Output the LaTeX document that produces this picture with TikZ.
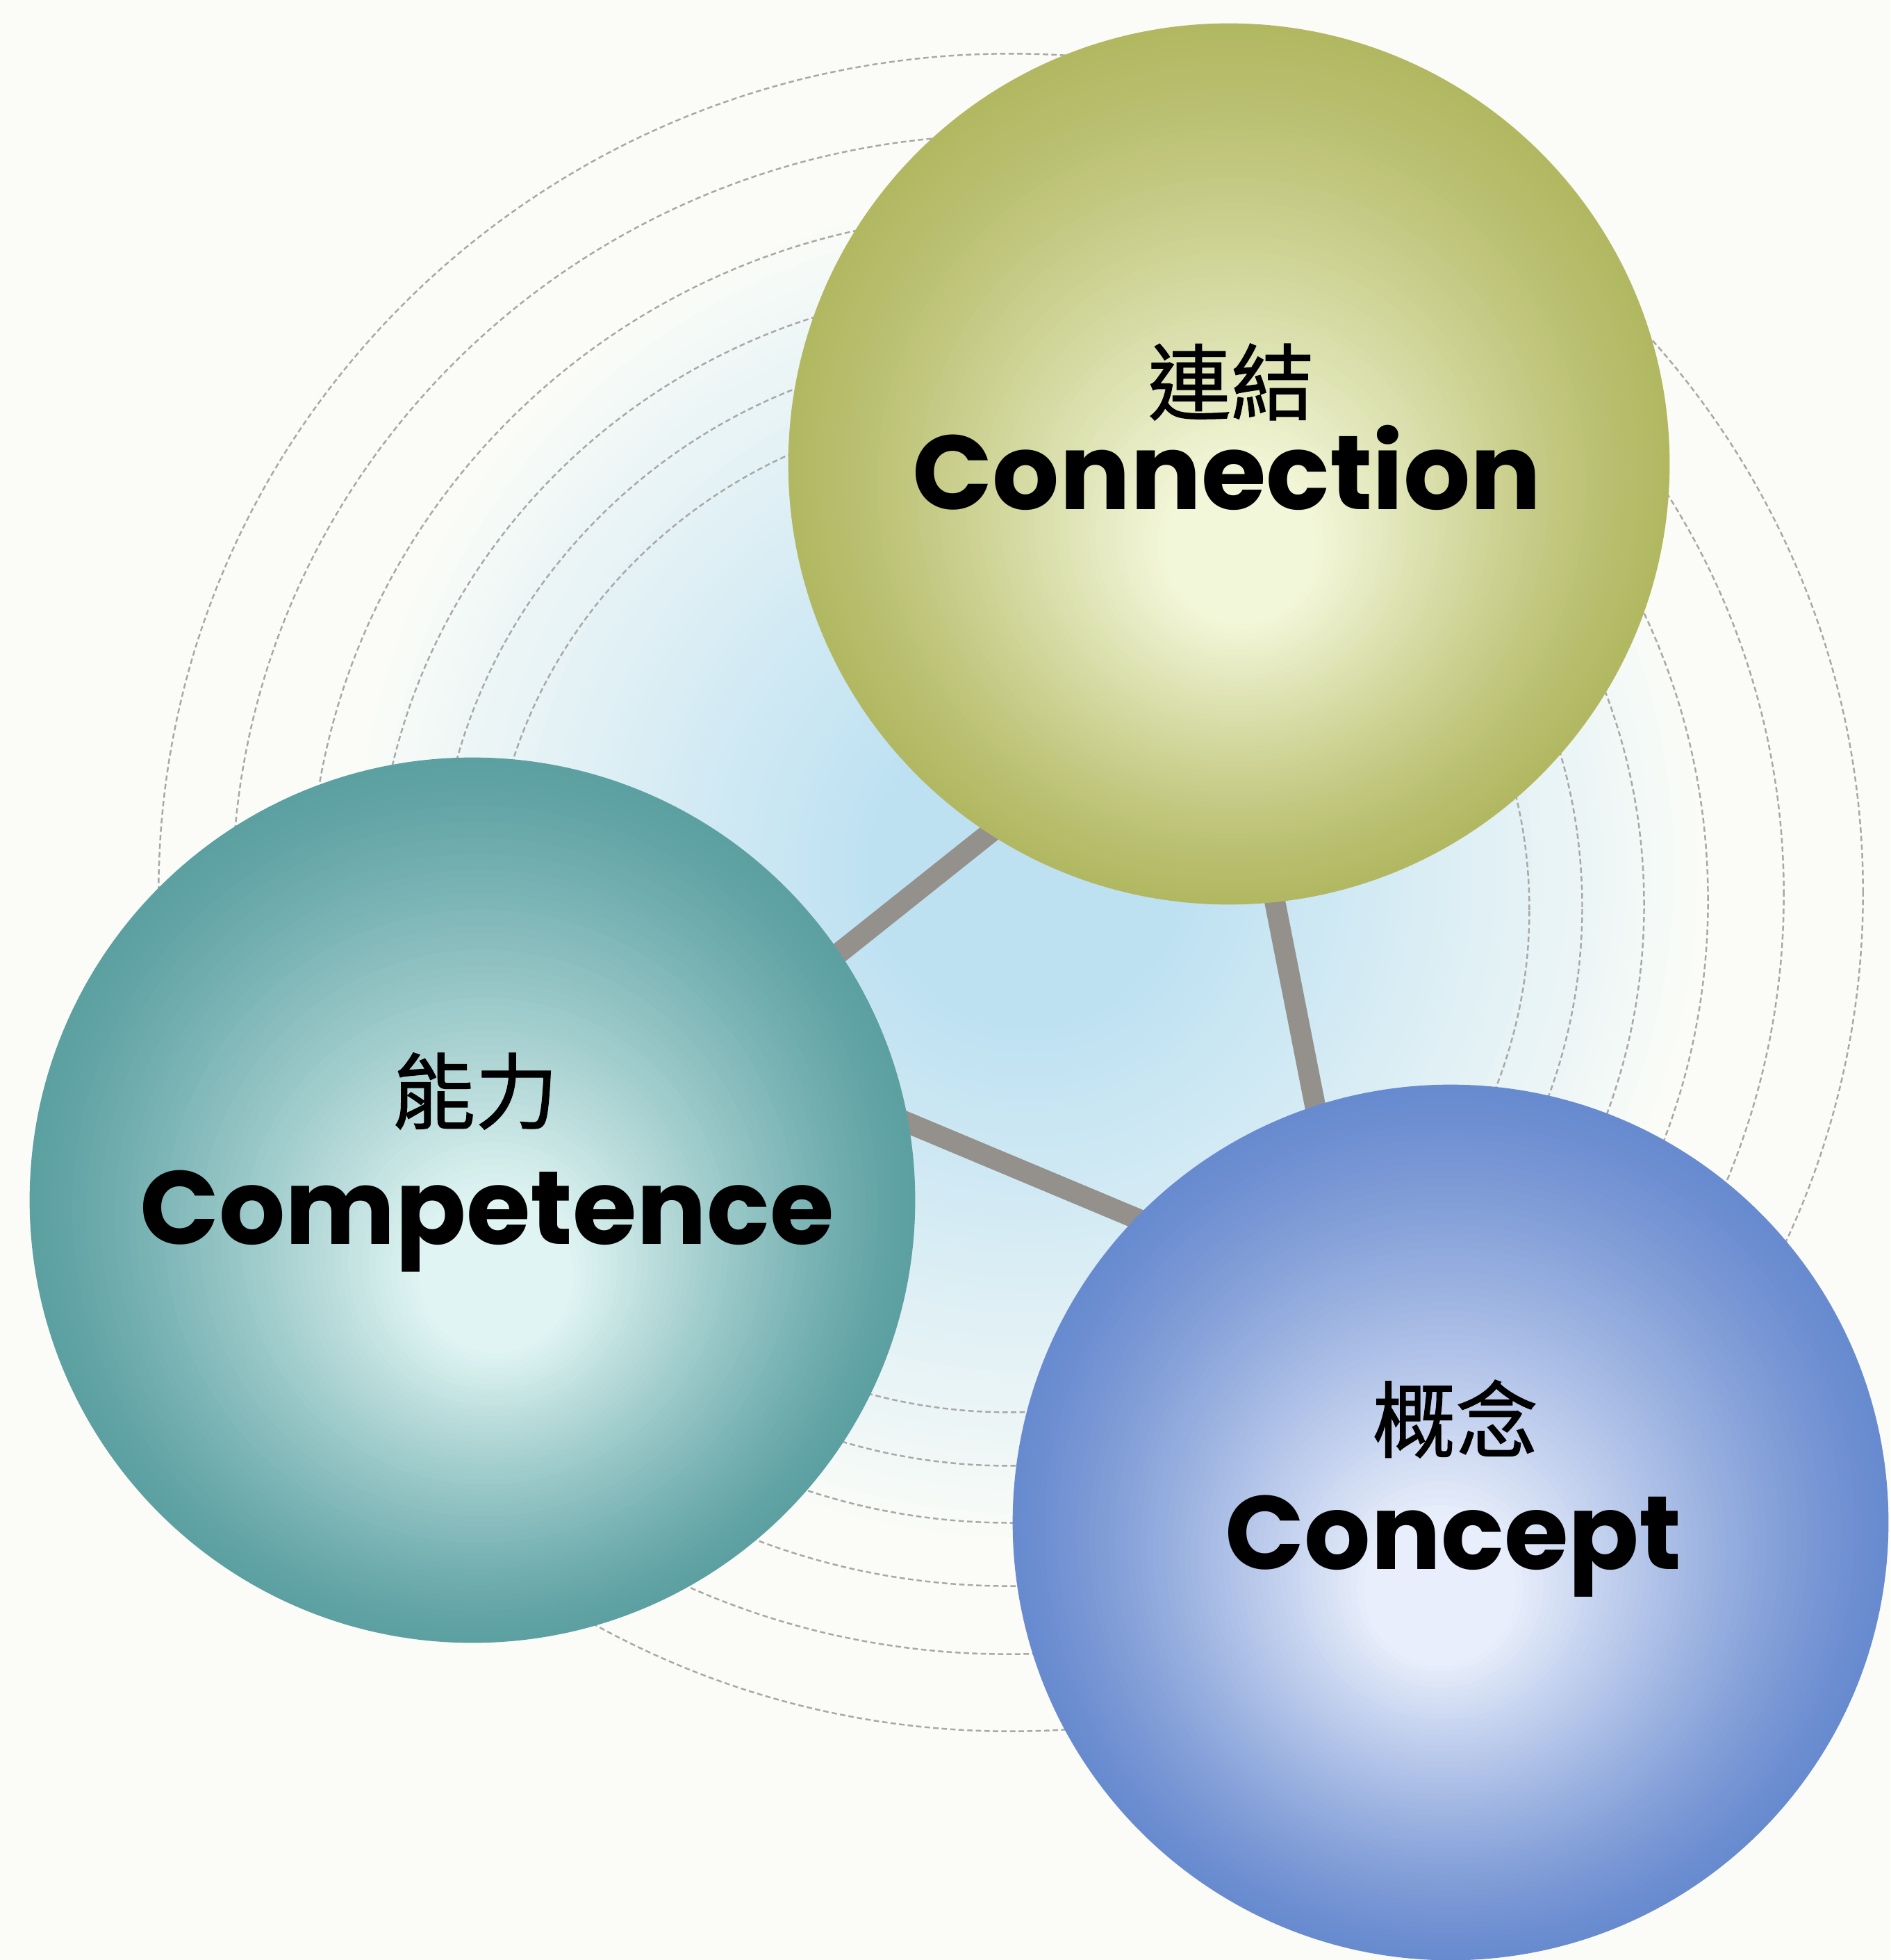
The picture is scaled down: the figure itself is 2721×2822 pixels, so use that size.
\documentclass[tikz,border=0pt]{standalone}
\usepackage{fontspec}
\newfontfamily\popfont{Poppins}
\newfontfamily\cjkfont{Noto Sans CJK TC}[FakeBold=1]
\pgfdeclarelayer{back}
\pgfdeclarelayer{mid}
\pgfsetlayers{back,mid,main}

\definecolor{bgc}{RGB}{251,252,247}
\definecolor{glowc}{RGB}{190,225,242}
\definecolor{connIn}{RGB}{243,247,218}
\definecolor{connOut}{RGB}{178,184,98}
\definecolor{compIn}{RGB}{224,245,243}
\definecolor{compOut}{RGB}{92,160,162}
\definecolor{concIn}{RGB}{232,238,251}
\definecolor{concOut}{RGB}{104,138,207}
\definecolor{barc}{RGB}{148,144,140}
\definecolor{ringc}{RGB}{168,168,168}

% ball drawn as a stack of discs: #1 cx, #2 cy, #3 radius (px), #4 dx, #5 dy (highlight shift), #6 colour prefix
\newcommand{\drawball}[6]{%
  \foreach \balk in {0,...,64}{%
    \pgfmathsetmacro{\balt}{\balk/64}%
    \pgfmathsetmacro{\balp}{min(100,100*(\balt/0.86)^1.2)}%
    \pgfmathsetmacro{\balr}{#3*(1-0.96*\balt)/100}%
    \fill[#6In!\balp!#6Out] (#1+\balt*#4, #2+\balt*#5) circle [radius=\balr cm];
  }%
}

\tikzset{
  ballnode/.style={circle, inner sep=0pt, draw=none},
  ring/.style={draw=ringc, line width=0.7pt, dash pattern=on 2.2pt off 1.3pt},
  bar/.style={draw=barc, line width=0.30cm, shorten <=-0.9cm, shorten >=-0.9cm},
  latlabel/.style={inner sep=0pt, anchor=base, text=black, font=\popfont\bfseries},
  cjklabel/.style={inner sep=0pt, anchor=center, text=black, font=\cjkfont\fontsize{34pt}{34pt}\selectfont}
}

\begin{document}
\begin{tikzpicture}[x=0.01cm, y=-0.01cm]
\useasboundingbox (0,0) rectangle (2721,2822);

\begin{pgfonlayer}{back}
  \fill[bgc] (0,0) rectangle (2721,2822);
  \foreach \gk in {0,...,44}{%
    \pgfmathsetmacro{\gp}{100*(\gk/44)^0.95}%
    \pgfmathsetmacro{\gr}{9.8-\gk*0.17}%
    \fill[glowc!\gp!bgc] (1480,1250) circle [radius=\gr cm];
  }
  \foreach \cx/\cy/\rx/\ry in {1455/1285/12.26/12.07, 1451/1288/11.16/10.93, 1452/1296/10.06/9.87,
                               1454/1303/9.12/8.89, 1453/1306/8.24/8.04, 1453/1310/7.48/7.23}
    \draw[ring] (\cx,\cy) ellipse [x radius=\rx cm, y radius=\ry cm];
\end{pgfonlayer}

% balls (named nodes carry the anchors)
\node[ballnode, minimum size=12.68cm] (conn) at (1769,668) {};
\node[ballnode, minimum size=12.74cm] (comp) at (680,1728) {};
\node[ballnode, minimum size=12.60cm] (conc) at (2088,2192) {};
\drawball{1769}{668}{634}{20}{140}{conn}
\drawball{680}{1728}{637}{40}{126}{comp}
\drawball{2088}{2192}{630}{-18}{112}{conc}

% connectors behind the balls
\begin{pgfonlayer}{mid}
  \draw[bar] (comp.34) -- (conn.237);
  \draw[bar] (conn.276) -- (conc.108);
  \draw[bar] (comp.10) -- (conc.136);
\end{pgfonlayer}

% labels
\node[cjklabel] (connZH) at (1772,550) {連結};
\node[latlabel] (connEN) at (1766,734) {\resizebox{9.05cm}{!}{Connection}};

\node[cjklabel] (compZH) at (684,1571) {能力};
\node[latlabel] (compEN) at (701,1791) {\resizebox{9.99cm}{!}{Competence}};

\node[cjklabel] (concZH) at (2095,2043) {概念};
\node[latlabel] (concEN) at (2092,2259) {\resizebox{6.57cm}{!}{Concept}};
\end{tikzpicture}
\end{document}
